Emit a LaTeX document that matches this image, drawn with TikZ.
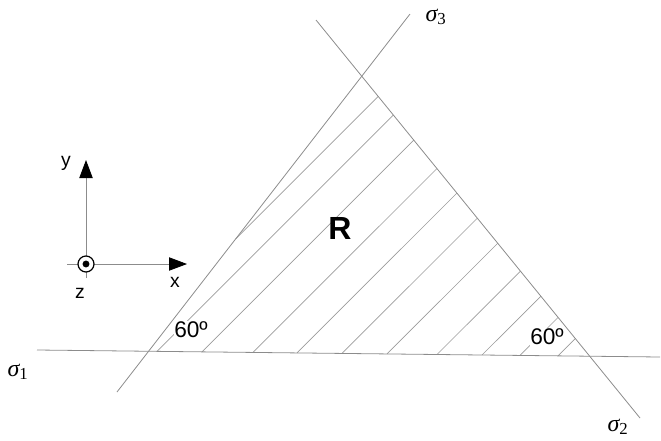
\documentclass[tikz,border=0pt]{standalone}
\usepackage{fontspec}
\setmainfont{Liberation Sans}
\newfontfamily\sigmafont{Liberation Serif}
\definecolor{linegray}{RGB}{140,140,140}
\definecolor{hatchgray}{RGB}{155,155,155}
\usetikzlibrary{arrows.meta, calc}

\begin{document}
\begin{tikzpicture}[x=0.75pt, y=-0.75pt,
  plane/.style={draw=linegray, line width=0.6pt},
  hatchline/.style={draw=hatchgray, line width=0.5pt},
  axisline/.style={draw=linegray, line width=0.6pt, -{Triangle[length=13.5pt, width=10pt, color=black]}},
  anglelabel/.style={fill=white, inner sep=0.5pt, font=\fontsize{17}{19}\selectfont},
  axislabel/.style={inner sep=0pt, font=\fontsize{14.5}{16}\selectfont},
  planelabel/.style={inner sep=0pt, font=\fontsize{18}{20}\sigmafont\itshape}]
  \useasboundingbox (0,0) rectangle (661,440);

  % stress planes
  \coordinate (s1a) at (37,350);  \coordinate (s1b) at (660,357);
  \coordinate (s2a) at (316,20);  \coordinate (s2b) at (640,418);
  \coordinate (s3a) at (117,392); \coordinate (s3b) at (410,14);

  % hatching of region R, at 45 degrees up to plane 2
  \foreach \bx in {157,202,253,297,342,387,437,482,520,558} {
    \coordinate (hb) at ($(s1a)!{(\bx-37)/623}!(s1b)$);
    \coordinate (hd) at ($(hb)+(100,-100)$);
    \draw[hatchline] (hb) -- (intersection of hb--hd and s2a--s2b);
  }
  \coordinate (hs) at ($(s3a)!0.405!(s3b)$);
  \coordinate (hd) at ($(hs)+(100,-100)$);
  \draw[hatchline] (hs) -- (intersection of hs--hd and s2a--s2b);

  \draw[plane] (s1a) -- (s1b);
  \draw[plane] (s2a) -- (s2b);
  \draw[plane] (s3a) -- (s3b);

  \node[planelabel] (sig1) at (18,372) {σ\textsubscript{\upshape 1}};
  \node[planelabel] (sig2) at (618,427) {σ\textsubscript{\upshape 2}};
  \node[planelabel] (sig3) at (436,17) {σ\textsubscript{\upshape 3}};

  \node[font=\fontsize{24}{28}\selectfont\bfseries] (reg) at (340,228) {R};
  \node[anglelabel] (ang1) at (191,330) {60º};
  \node[anglelabel] (ang2) at (547,337) {60º};

  % axes, z pointing out of the page
  \coordinate (xtail) at (67,264);  \coordinate (xtip) at (187,264);
  \coordinate (ytail) at (86,278);  \coordinate (ytip) at (86,160);
  \draw[axisline] (xtail) -- (xtip);
  \draw[axisline] (ytail) -- (ytip);
  \node[circle, draw=black, fill=white, line width=0.9pt, minimum size=12pt, inner sep=0pt] (org) at (86,264) {};
  \fill[black] (org.center) circle (2.6pt);

  \node[axislabel] (xlab) at (175,282) {x};
  \node[axislabel] (ylab) at (66,163) {y};
  \node[axislabel] (zlab) at (80,293) {z};
\end{tikzpicture}
\end{document}
